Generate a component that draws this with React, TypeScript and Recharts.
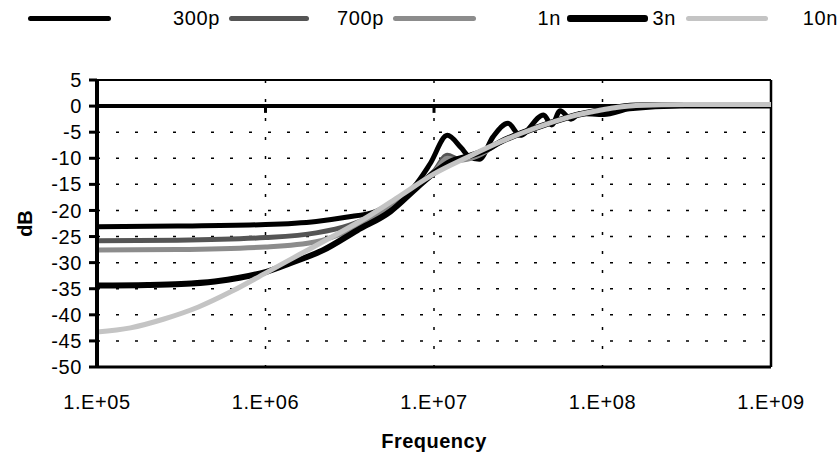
import React from 'react';
import { LineChart, Line, XAxis, YAxis, CartesianGrid, ReferenceLine } from 'recharts';

// ---- data (frequency in Hz, response in dB) ----
const frequencyTicks = [1e5, 1e6, 1e7, 1e8, 1e9];
const dbTicks = [5, 0, -5, -10, -15, -20, -25, -30, -35, -40, -45, -50];

const f300p = [1e5, 3e5, 1e6, 2e6, 3e6, 4.5e6, 5.5e6, 7.6e6, 9.5e6, 1.2e7, 1.45e7, 1.62e7, 1.86e7, 2.24e7, 2.75e7, 3.24e7, 4.47e7, 5e7, 5.6e7, 6.5e7, 7.4e7, 1.02e8, 1.45e8, 2.9e8, 1e9];
const db300p = [-23.1, -23.0, -22.7, -22.1, -21.3, -20.2, -18.8, -15.5, -11, -5.6, -8.0, -9.7, -10.2, -5.9, -3.3, -5.6, -1.7, -3.6, -0.9, -2.5, -1.4, -1.6, -0.5, 0.0, 0.0];

const f700p = [1e5, 3e5, 1e6, 2e6, 3.16e6, 5e6, 7e6, 1e7, 1.2e7, 1.4e7, 1.8e7, 2.5e7, 4e7, 6.3e7, 1e8, 1.58e8, 3.16e8, 1e9];
const db700p = [-25.8, -25.7, -25.2, -24.3, -22.8, -20.0, -16.5, -12.5, -9.4, -10.2, -9.5, -6.8, -4.2, -2.1, -0.7, 0.1, 0.2, 0.2];

const f1n = [1e5, 3e5, 1e6, 2e6, 3.16e6, 5e6, 7e6, 1e7, 1.2e7, 1.4e7, 1.8e7, 2.5e7, 4e7, 6.3e7, 1e8, 1.58e8, 3.16e8, 1e9];
const db1n = [-27.6, -27.5, -27.0, -26.0, -23.8, -20.3, -16.6, -12.8, -10.0, -10.4, -9.6, -6.8, -4.2, -2.1, -0.7, 0.1, 0.2, 0.2];

const f3n = [1e5, 2e5, 3.16e5, 5e5, 7e5, 1e6, 1.4e6, 2.2e6, 3.5e6, 5.5e6, 8e6, 1e7, 1.26e7, 1.6e7, 2e7, 2.5e7, 4e7, 6.3e7, 1e8, 1.58e8, 3.16e8, 1e9];
const db3n = [-34.4, -34.3, -34.1, -33.6, -32.9, -31.8, -30.1, -27.6, -23.8, -20.2, -15.5, -12.8, -10.6, -9.6, -8.5, -6.8, -4.2, -2.1, -0.7, 0.1, 0.2, 0.2];

const f10n = [1e5, 1.58e5, 2.5e5, 4e5, 6.3e5, 1e6, 1.58e6, 2.5e6, 4e6, 6.3e6, 1e7, 1.58e7, 2.5e7, 4e7, 6.3e7, 1e8, 1.58e8, 3.16e8, 1e9];
const db10n = [-43.3, -42.5, -40.8, -38.5, -35.5, -32.0, -28.5, -25.0, -21.3, -17.2, -13.0, -9.8, -6.8, -4.2, -2.1, -0.7, 0.1, 0.3, 0.3];

const seriesNames = ['300p', '700p', '1n', '3n', '10n'];

const toPoints = (f: number[], db: number[]) => f.map((v, i) => ({ f: v, db: db[i] }));

const series = [
  { name: seriesNames[0], data: toPoints(f300p, db300p), color: '#000000', width: 5 },
  { name: seriesNames[1], data: toPoints(f700p, db700p), color: '#555555', width: 5 },
  { name: seriesNames[2], data: toPoints(f1n, db1n), color: '#8c8c8c', width: 5 },
  { name: seriesNames[3], data: toPoints(f3n, db3n), color: '#000000', width: 6 },
  { name: seriesNames[4], data: toPoints(f10n, db10n), color: '#c4c4c4', width: 5 },
];

const FONT = '"Liberation Sans", Arial, Helvetica, sans-serif';
const TICK_FONT_SIZE = 20;
const LETTER_SPACING = 0.6;

const fmtFreq = (v: number) => {
  const e = Math.round(Math.log10(v));
  return '1.E+' + (e < 10 ? '0' + e : String(e));
};

const legendLayout = [
  { swatchLeft: 28, swatchWidth: 83, labelRight: 220, h: 5 },
  { swatchLeft: 229, swatchWidth: 80, labelRight: 384, h: 5 },
  { swatchLeft: 393, swatchWidth: 83, labelRight: 561, h: 5 },
  { swatchLeft: 567, swatchWidth: 81, labelRight: 676, h: 7 },
  { swatchLeft: 686, swatchWidth: 82, labelRight: 838, h: 5 },
];

function ChartLegend() {
  return (
    <div style={{ position: 'absolute', left: 0, top: 0, width: 839, height: 40 }}>
      {series.map((s, i) => {
        const L = legendLayout[i];
        return (
          <React.Fragment key={s.name}>
            <div
              style={{
                position: 'absolute',
                left: L.swatchLeft,
                top: 18 - L.h / 2,
                width: L.swatchWidth,
                height: L.h,
                background: s.color,
                borderRadius: 3,
              }}
            />
            <div
              style={{
                position: 'absolute',
                right: 839 - L.labelRight,
                top: 6,
                fontFamily: FONT,
                fontSize: TICK_FONT_SIZE,
                letterSpacing: LETTER_SPACING,
                lineHeight: '24px',
                color: '#000',
                whiteSpace: 'nowrap',
              }}
            >
              {s.name}
            </div>
          </React.Fragment>
        );
      })}
    </div>
  );
}

const FreqLabel = (props: any) => {
  const vb = props.viewBox || { x: 97, y: 367, width: 674, height: 87 };
  return (
    <text x={vb.x + vb.width / 2} y={vb.y + 81} textAnchor="middle" fontFamily={FONT} fontWeight="bold" fontSize={20} letterSpacing={0.5} fill="#000">
      Frequency
    </text>
  );
};

const DbLabel = (props: any) => {
  const vb = props.viewBox || { x: 0, y: 80, width: 97, height: 287 };
  const cx = vb.x + 25;
  const cy = vb.y + vb.height / 2;
  return (
    <text x={cx} y={cy} transform={`rotate(-90 ${cx} ${cy})`} textAnchor="middle" dominantBaseline="central" fontFamily={FONT} fontWeight="bold" fontSize={20} fill="#000">
      dB
    </text>
  );
};

const tickStyle = { fill: '#000', fontSize: TICK_FONT_SIZE, fontFamily: FONT, letterSpacing: LETTER_SPACING };

export default function App() {
  return (
    <div style={{ position: 'absolute', left: 0, top: 0, width: 839, height: 454, background: '#fff' }}>
      <ChartLegend />
      <LineChart width={839} height={454} margin={{ top: 80, right: 68, bottom: 0, left: 0 }}>
        <CartesianGrid stroke="#000" strokeWidth={1.5} strokeDasharray="3 16" />
        <XAxis
          dataKey="f"
          type="number"
          scale="log"
          domain={[1e5, 1e9]}
          ticks={frequencyTicks}
          interval={0}
          allowDataOverflow
          tickFormatter={fmtFreq}
          height={87}
          axisLine={{ stroke: '#000', strokeWidth: 3 }}
          tickLine={false}
          tickSize={0}
          tickMargin={28}
          tick={tickStyle}
          label={{ content: FreqLabel }}
        />
        <YAxis
          type="number"
          domain={[-50, 5]}
          ticks={dbTicks}
          interval={0}
          allowDataOverflow
          width={97}
          axisLine={{ stroke: '#000', strokeWidth: 4 }}
          tickLine={{ stroke: '#000', strokeWidth: 3 }}
          tickSize={8}
          tickMargin={7}
          tick={tickStyle}
          label={{ content: DbLabel }}
        />
        <ReferenceLine y={5} stroke="#000" strokeWidth={2} />
        <ReferenceLine x={1e9} stroke="#000" strokeWidth={2.5} />
        <ReferenceLine y={0} stroke="#000" strokeWidth={4} />
        {frequencyTicks.slice(1, 4).map((t) => (
          <ReferenceLine key={t} segment={[{ x: t, y: 0 }, { x: t, y: -1.3 }]} stroke="#000" strokeWidth={3} />
        ))}
        {series.map((s) => (
          <Line
            key={s.name}
            data={s.data}
            dataKey="db"
            name={s.name}
            type="monotone"
            stroke={s.color}
            strokeWidth={s.width}
            dot={false}
            activeDot={false}
            isAnimationActive={false}
          />
        ))}
      </LineChart>
    </div>
  );
}
